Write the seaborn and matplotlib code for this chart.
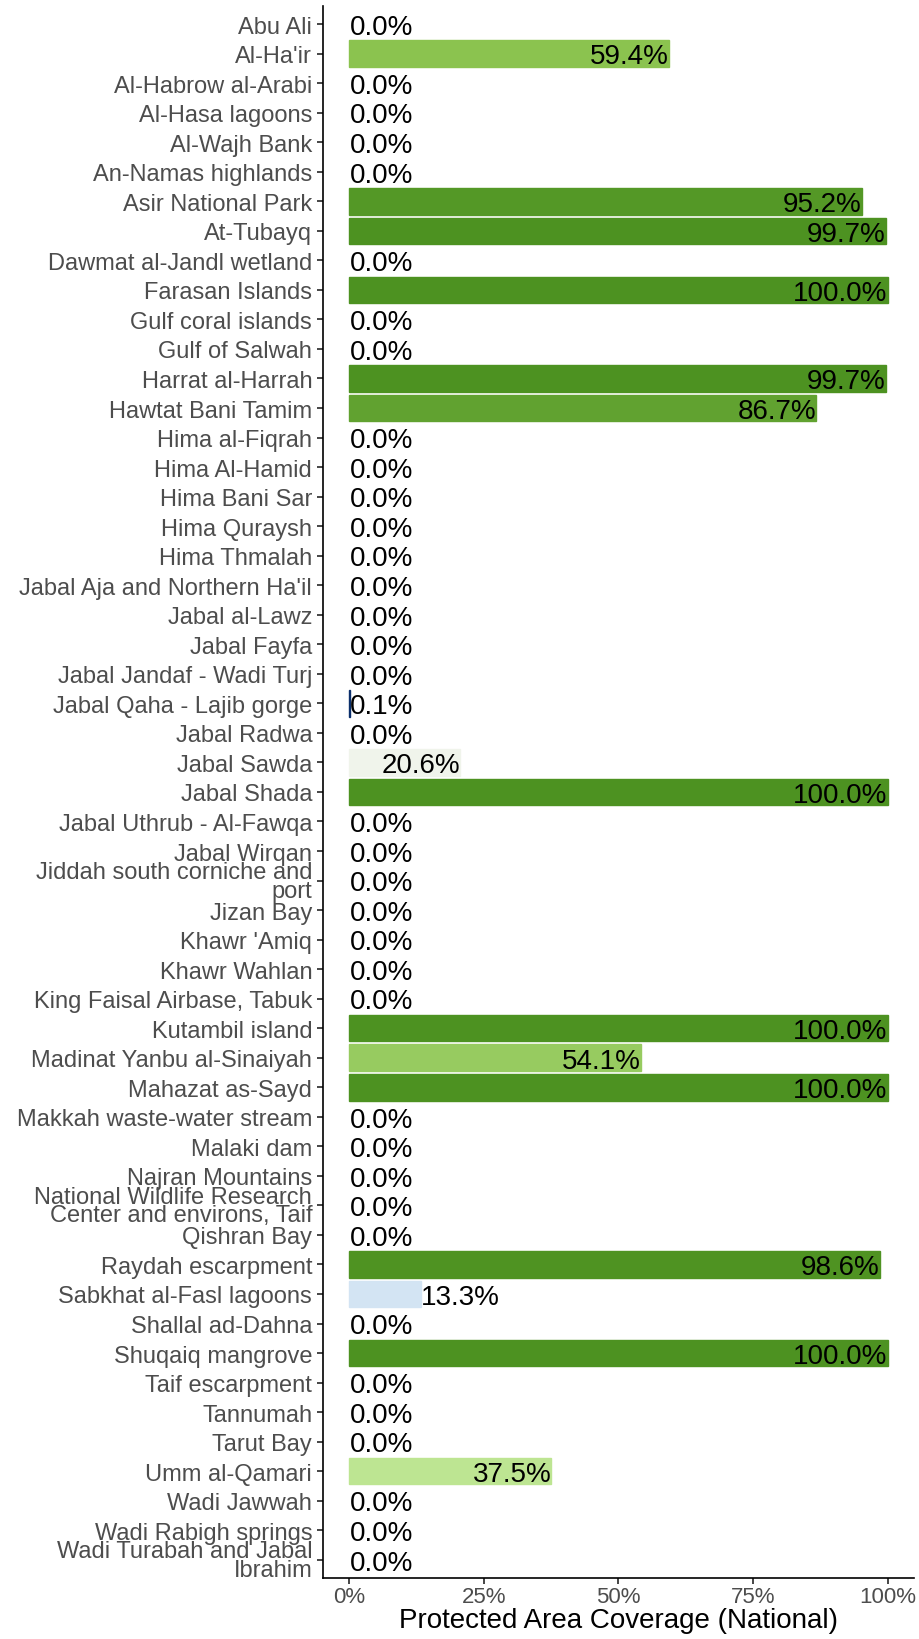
import numpy as np
import pandas as pd
import seaborn as sns
import matplotlib.pyplot as plt
from matplotlib.colors import LinearSegmentedColormap

sites = [
    "Abu Ali", "Al-Ha'ir", "Al-Habrow al-Arabi", "Al-Hasa lagoons", "Al-Wajh Bank",
    "An-Namas highlands", "Asir National Park", "At-Tubayq", "Dawmat al-Jandl wetland",
    "Farasan Islands", "Gulf coral islands", "Gulf of Salwah", "Harrat al-Harrah",
    "Hawtat Bani Tamim", "Hima al-Fiqrah", "Hima Al-Hamid", "Hima Bani Sar",
    "Hima Quraysh", "Hima Thmalah", "Jabal Aja and Northern Ha'il", "Jabal al-Lawz",
    "Jabal Fayfa", "Jabal Jandaf - Wadi Turj", "Jabal Qaha - Lajib gorge", "Jabal Radwa",
    "Jabal Sawda", "Jabal Shada", "Jabal Uthrub - Al-Fawqa", "Jabal Wirqan",
    "Jiddah south corniche and\nport", "Jizan Bay", "Khawr 'Amiq", "Khawr Wahlan",
    "King Faisal Airbase, Tabuk", "Kutambil island", "Madinat Yanbu al-Sinaiyah",
    "Mahazat as-Sayd", "Makkah waste-water stream", "Malaki dam", "Najran Mountains",
    "National Wildlife Research\nCenter and environs, Taif", "Qishran Bay",
    "Raydah escarpment", "Sabkhat al-Fasl lagoons", "Shallal ad-Dahna",
    "Shuqaiq mangrove", "Taif escarpment", "Tannumah", "Tarut Bay", "Umm al-Qamari",
    "Wadi Jawwah", "Wadi Rabigh springs", "Wadi Turabah and Jabal\nIbrahim",
]

coverage = [
    0.0, 59.4, 0.0, 0.0, 0.0,
    0.0, 95.2, 99.7, 0.0,
    100.0, 0.0, 0.0, 99.7,
    86.7, 0.0, 0.0, 0.0,
    0.0, 0.0, 0.0, 0.0,
    0.0, 0.0, 0.1, 0.0,
    20.6, 100.0, 0.0, 0.0,
    0.0, 0.0, 0.0, 0.0,
    0.0, 100.0, 54.1,
    100.0, 0.0, 0.0, 0.0,
    0.0, 0.0,
    98.6, 13.3, 0.0,
    100.0, 0.0, 0.0, 0.0, 37.5,
    0.0, 0.0, 0.0,
]

x_ticks = [0, 25, 50, 75, 100]

df = pd.DataFrame({"site": sites, "coverage": coverage})

# blue -> white -> green fill scale
cmap = LinearSegmentedColormap.from_list("cov", [
    (0.0, "#0b2f6b"), (0.13, "#d2e3f3"), (0.21, "#f2f5ea"),
    (0.375, "#bde592"), (0.6, "#8ac24e"), (1.0, "#4d9221"),
])
colors = [cmap(v / 100) for v in df["coverage"]]

sns.set_theme(style="ticks")
plt.rcParams["font.family"] = ["Liberation Sans", "DejaVu Sans"]

fig = plt.figure(figsize=(9.19, 16.40), dpi=100)
ax = fig.add_axes([0.351, 0.0375, 0.644, 0.958])

sns.barplot(data=df, y="site", x="coverage", hue="site", palette=colors,
            legend=False, width=0.9, saturation=1, ax=ax, orient="h")

# outline non-empty bars so tiny values stay visible
for patch in ax.patches:
    if patch.get_width() > 0:
        patch.set_edgecolor(patch.get_facecolor())
        patch.set_linewidth(1.0)

for i, v in enumerate(df["coverage"]):
    ha = "right" if v > 15 else "left"
    ax.annotate(f"{v:.1f}%", (v, i), xytext=(0, -2), textcoords="offset points",
                ha=ha, va="center", fontsize=20, color="black")

ax.set_xlim(-5, 105)
ax.set_ylim(len(sites) - 0.4, -0.6)
ax.set_xticks(x_ticks)
ax.set_xticklabels([f"{t}%" for t in x_ticks], fontsize=16, color="#4d4d4d")
ax.tick_params(axis="y", labelsize=17, labelcolor="#4d4d4d", length=4, width=1.2)
ax.tick_params(axis="x", length=4, width=1.2, pad=2)
for lab in ax.get_yticklabels():
    lab.set_linespacing(0.8)
ax.set_ylabel("")
ax.set_xlabel("Protected Area Coverage (National)", fontsize=20, color="black", labelpad=0)
sns.despine(ax=ax)
for s in ["left", "bottom"]:
    ax.spines[s].set_color("black")
    ax.spines[s].set_linewidth(1.2)

fig.savefig("out.png", dpi=100)
